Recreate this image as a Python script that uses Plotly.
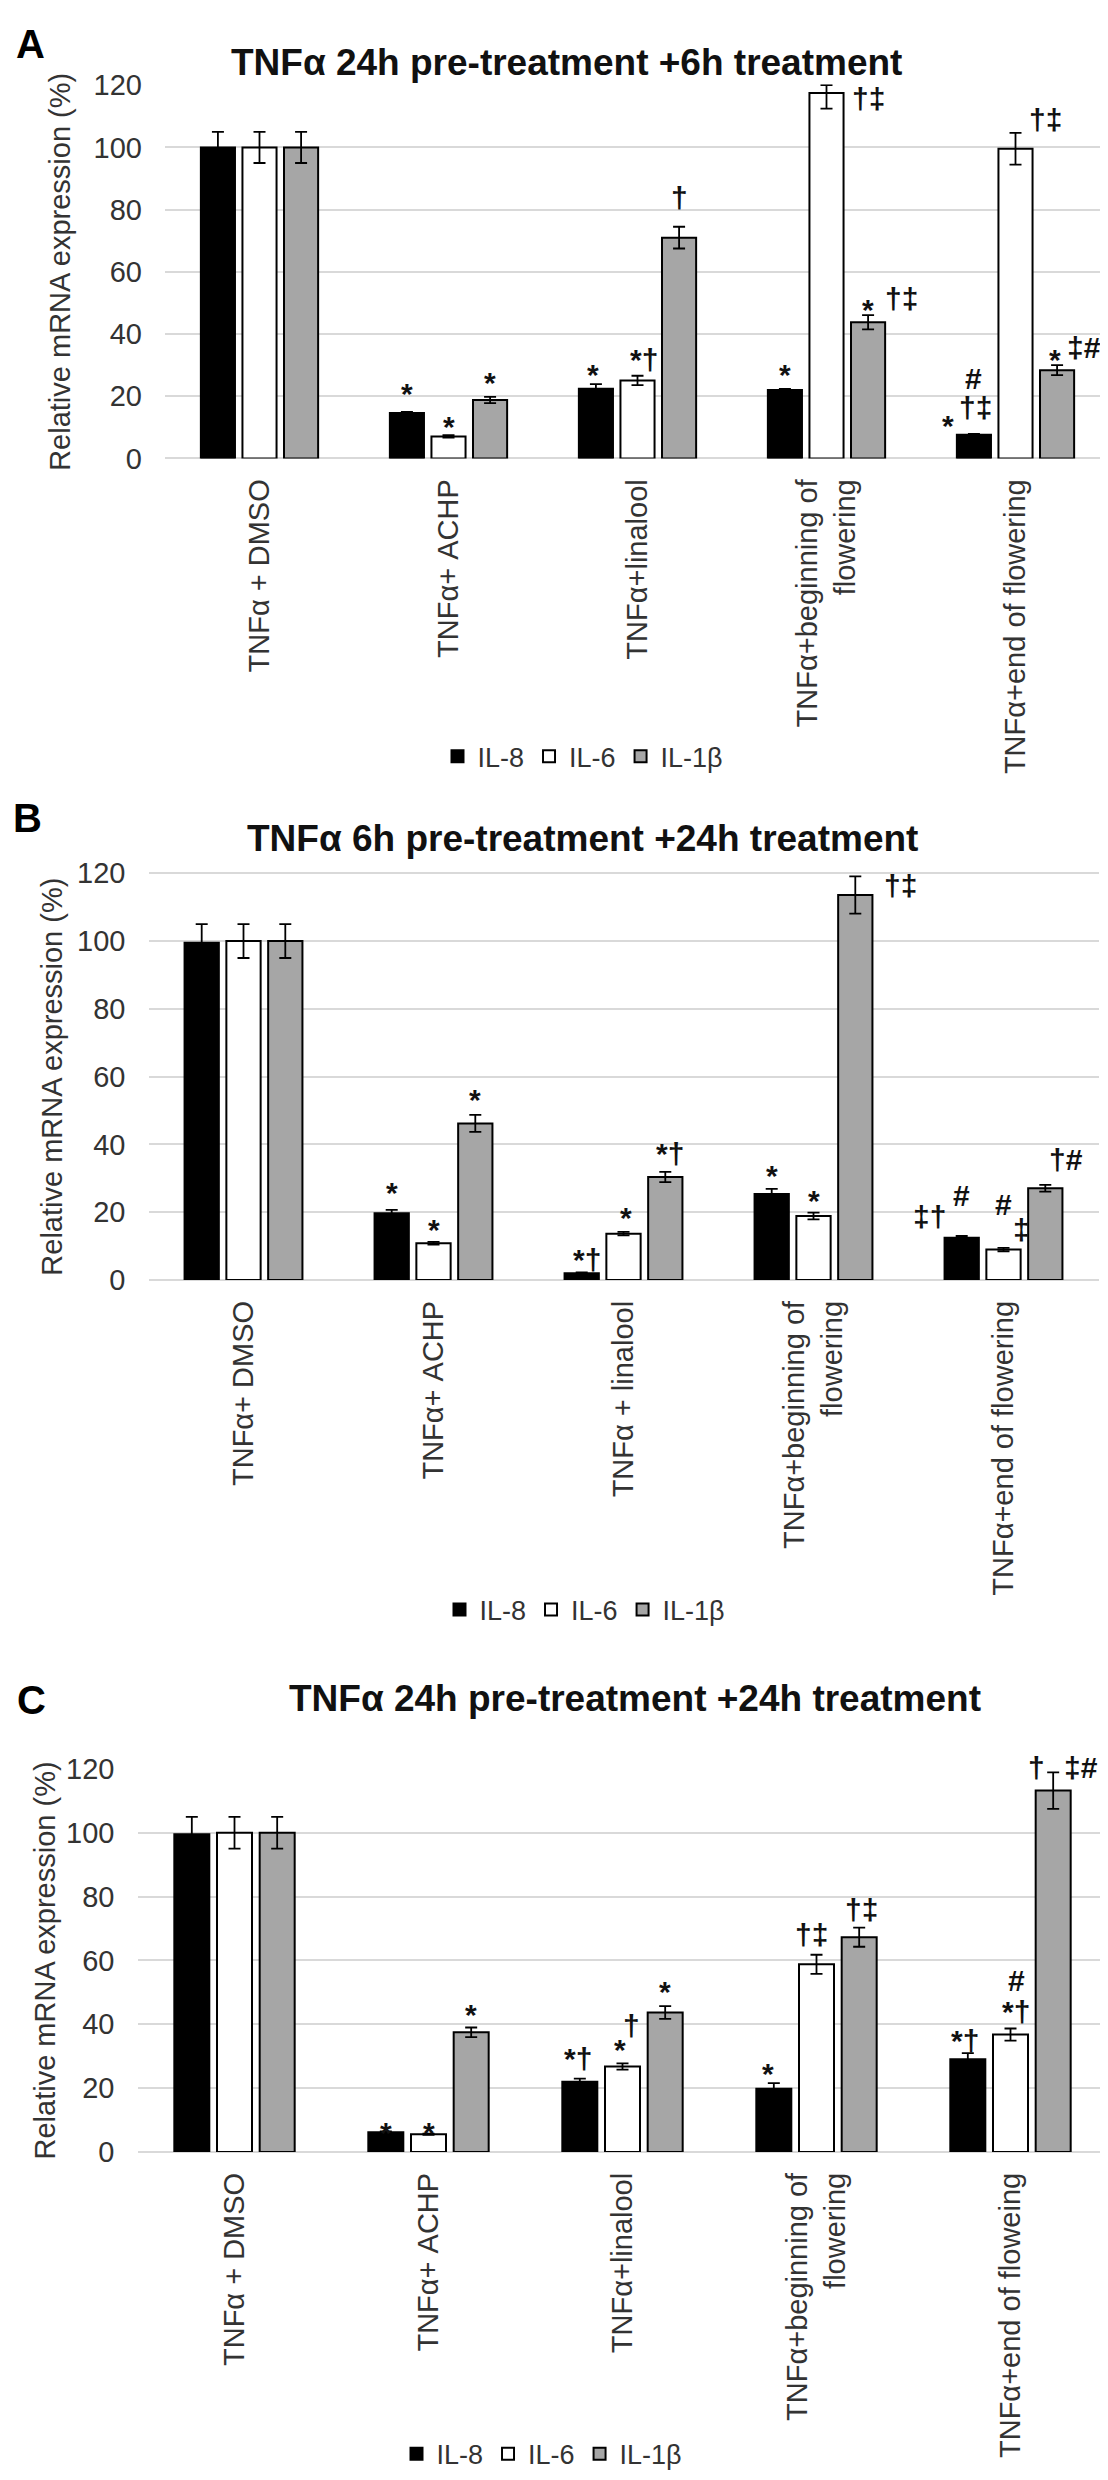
import plotly.graph_objects as go

W, H = 1108, 2480
FONT = "Liberation Sans, Arial, sans-serif"

SERIES = ["IL-8", "IL-6", "IL-1β"]
FILLS = ["#000000", "#ffffff", "#a6a6a6"]

# ---------------- Panel A data ----------------
A_title = "TNFα 24h pre-treatment +6h treatment"
A_labels = ["TNFα + DMSO", "TNFα+ ACHP", "TNFα+linalool",
            "TNFα+beginning of<br>flowering", "TNFα+end of flowering"]
A_IL8 = [100, 14.6, 22.4, 22.0, 7.6]
A_IL6 = [100, 7.1, 25.1, 117.5, 99.6]
A_IL1B = [100, 18.8, 71.0, 43.8, 28.4]
A_IL8_err = [5, 0.4, 1.5, 0.4, 0.3]
A_IL6_err = [5, 0.4, 1.5, 5.0, 5.1]
A_IL6_err_up = [5, 0.4, 1.5, 2.5, 5.1]
A_IL1B_err = [5, 1.0, 3.5, 2.3, 1.6]
A_marks = [  # (category, series, text)
    (1, 0, "*"), (1, 1, "*"), (1, 2, "*"),
    (2, 0, "*"), (2, 1, "*†"), (2, 2, "†"),
    (3, 0, "*"), (3, 1, "†‡"), (3, 2, "*"), (3, 2, "†‡"),
    (4, 0, "*"), (4, 0, "†‡"), (4, 0, "#"), (4, 1, "†‡"), (4, 2, "*"), (4, 2, "‡#"),
]

# ---------------- Panel B data ----------------
B_title = "TNFα 6h pre-treatment +24h treatment"
B_labels = ["TNFα+ DMSO", "TNFα+ ACHP", "TNFα + linalool",
            "TNFα+beginning of<br>flowering", "TNFα+end of flowering"]
B_IL8 = [99.5, 19.7, 2.0, 25.4, 12.5]
B_IL6 = [100, 10.9, 13.7, 18.9, 9.0]
B_IL1B = [100, 46.2, 30.4, 113.6, 27.1]
B_IL8_err = [5.5, 1.0, 0.3, 1.5, 0.5]
B_IL6_err = [5, 0.4, 0.5, 1.0, 0.5]
B_IL6_err_up = [5, 0.4, 0.5, 1.0, 0.5]
B_IL1B_err = [5, 2.5, 1.5, 5.5, 1.0]
B_marks = [
    (1, 0, "*"), (1, 1, "*"), (1, 2, "*"),
    (2, 0, "*†"), (2, 1, "*"), (2, 2, "*†"),
    (3, 0, "*"), (3, 1, "*"), (3, 2, "†‡"),
    (4, 0, "‡†"), (4, 0, "#"), (4, 1, "#"), (4, 1, "‡"), (4, 2, "†#"),
]

# ---------------- Panel C data ----------------
C_title = "TNFα 24h pre-treatment +24h treatment"
C_labels = ["TNFα + DMSO", "TNFα+ ACHP", "TNFα+linalool",
            "TNFα+beginning of<br>flowering", "TNFα+end of floweing"]
C_IL8 = [99.5, 6.2, 22.0, 19.8, 29.1]
C_IL6 = [100, 5.6, 26.8, 58.8, 36.8]
C_IL1B = [100, 37.5, 43.7, 67.3, 113.2]
C_IL8_err = [5.5, 0.3, 1.0, 1.8, 1.9]
C_IL6_err = [5, 0.2, 1.0, 3.0, 1.9]
C_IL6_err_up = [5, 0.2, 1.0, 3.0, 1.9]
C_IL1B_err = [5, 1.5, 2.0, 3.0, 5.7]
C_marks = [
    (1, 0, "*"), (1, 1, "*"), (1, 2, "*"),
    (2, 0, "*†"), (2, 1, "*"), (2, 1, "†"), (2, 2, "*"),
    (3, 0, "*"), (3, 1, "†‡"), (3, 2, "†‡"),
    (4, 0, "*†"), (4, 1, "*†"), (4, 1, "#"), (4, 2, "†"), (4, 2, "‡#"),
]

# ---------------- layout / style (pixels) ----------------
# mark placement styles, same order as marks: (anchor, dx, dy)
A_mark_style = [
    ("c", 0, 1), ("c", 0, -9), ("c", 0, -3),
    ("c", -3, -8), ("c", 6, -1), ("c", 0, 12),
    ("c", 0, -3), ("l", 24, -13), ("c", 0, -12), ("l", 16, 17),
    ("r", -19, 8), ("c", 2, 9), ("c", 0, 38), ("l", 12, 13), ("c", -2, -12), ("l", 9, 18),
]
B_mark_style = [
    ("c", 0, 0), ("c", 0, -5), ("c", 0, -2),
    ("c", 5, -5), ("c", 2, -3), ("c", 5, 1),
    ("c", 0, -4), ("c", 0, -5), ("l", 28, -9),
    ("r", -15, 20), ("c", 0, 23), ("c", 0, 26), ("l", 8, 18), ("l", 3, 25),
]
C_mark_style = [
    ("c", 0, -19), ("c", 0, -16), ("c", 0, -4),
    ("c", -2, 3), ("c", -3, -4), ("c", 9, 20), ("c", 0, -3),
    ("c", -6, -8), ("c", -5, 3), ("c", 2, 1),
    ("c", -3, -5), ("c", 5, -1), ("c", 6, 30), ("r", -7, 5), ("l", 10, 5),
]

BARGAP = 0.34
GROUPGAP = 0.18
SLOT = (1 - BARGAP) / 3


def px(x):
    return x / W


def py(y):
    return 1 - y / H


panels = [
    dict(key="", title=A_title, labels=A_labels, vals=[A_IL8, A_IL6, A_IL1B],
         errs=[A_IL8_err, A_IL6_err, A_IL1B_err], ups=[A_IL8_err, A_IL6_err_up, A_IL1B_err],
         marks=A_marks, mstyle=A_mark_style, letter="A",
         xdom=(157, 1102), ybot=441, ytop=63,
         title_xy=(558, 40), letter_xy=(22, 21), ytitle_xy=(52, 252), legend_xy=(575, 743)),
    dict(key="2", title=B_title, labels=B_labels, vals=[B_IL8, B_IL6, B_IL1B],
         errs=[B_IL8_err, B_IL6_err, B_IL1B_err], ups=[B_IL8_err, B_IL6_err_up, B_IL1B_err],
         marks=B_marks, mstyle=B_mark_style, letter="B",
         xdom=(140.5, 1090.5), ybot=1273, ytop=861,
         title_xy=(574, 826), letter_xy=(19, 805), ytitle_xy=(44, 1067), legend_xy=(577, 1607)),
    dict(key="3", title=C_title, labels=C_labels, vals=[C_IL8, C_IL6, C_IL1B],
         errs=[C_IL8_err, C_IL6_err, C_IL1B_err], ups=[C_IL8_err, C_IL6_err_up, C_IL1B_err],
         marks=C_marks, mstyle=C_mark_style, letter="C",
         xdom=(129.5, 1099.5), ybot=2156, ytop=1768,
         title_xy=(627, 1697), letter_xy=(23, 1698), ytitle_xy=(37, 1962), legend_xy=(534, 2462)),
]

fig = go.Figure()
annotations = []
layout = {}
YMAX = 120.3

for p in panels:
    k = p["key"]
    xa, ya = "x" + k, "y" + k
    leg = "legend" + k
    cats = list(range(len(p["labels"])))
    for s in range(3):
        fig.add_trace(go.Bar(
            x=cats, y=p["vals"][s], name=SERIES[s],
            xaxis=xa, yaxis=ya, legend=leg,
            marker=dict(color=FILLS[s], line=dict(color="#000000", width=2)),
            error_y=dict(type="data", array=p["ups"][s], arrayminus=p["errs"][s],
                         symmetric=False, color="#000000", thickness=1.8, width=6),
        ))
    per_unit = (p["ybot"] - p["ytop"]) / 120.0
    top_px = p["ybot"] - YMAX * per_unit
    layout["xaxis" + k] = dict(
        domain=[px(p["xdom"][0]), px(p["xdom"][1])], anchor=ya,
        range=[-0.5, len(cats) - 0.5], tickmode="array", tickvals=cats, ticktext=p["labels"],
        tickangle=-90, tickfont=dict(family=FONT, size=29, color="#333333"),
        showgrid=False, showline=False, zeroline=False, ticks="", ticklabelstandoff=14,
        fixedrange=True,
    )
    layout["yaxis" + k] = dict(
        domain=[py(p["ybot"]), py(top_px)], anchor=xa, range=[0, YMAX],
        tickmode="array", tickvals=[0, 20, 40, 60, 80, 100, 120],
        tickfont=dict(family=FONT, size=29, color="#333333"),
        showgrid=True, gridcolor="#d9d9d9", gridwidth=2,
        zeroline=True, zerolinecolor="#d9d9d9", zerolinewidth=2,
        showline=False, ticks="", ticklabelstandoff=22, fixedrange=True,
    )
    layout[leg] = dict(
        orientation="h", x=px(p["legend_xy"][0]), y=py(p["legend_xy"][1]),
        xanchor="center", yanchor="middle", xref="paper", yref="paper",
        font=dict(family=FONT, size=27, color="#333333"), itemwidth=30,
        bgcolor="rgba(0,0,0,0)", traceorder="normal",
    )
    annotations.append(dict(
        text="<b>" + p["title"] + "</b>", xref="paper", yref="paper",
        x=px(p["title_xy"][0]), y=py(p["title_xy"][1]), xanchor="center", yanchor="middle",
        showarrow=False, font=dict(family=FONT, size=37, color="#111111")))
    annotations.append(dict(
        text="<b>" + p["letter"] + "</b>", xref="paper", yref="paper",
        x=px(p["letter_xy"][0]), y=py(p["letter_xy"][1]), xanchor="center", yanchor="middle",
        showarrow=False, font=dict(family=FONT, size=40, color="#000000")))
    annotations.append(dict(
        text="Relative mRNA expression (%)", xref="paper", yref="paper",
        x=px(p["ytitle_xy"][0]), y=py(p["ytitle_xy"][1]), xanchor="center", yanchor="middle",
        textangle=-90, showarrow=False, font=dict(family=FONT, size=29, color="#333333")))
    for (c, s, txt), (anc, dx, dy) in zip(p["marks"], p["mstyle"]):
        xv = c + (s - 1) * SLOT
        yv = p["vals"][s][c] + p["ups"][s][c]
        if anc == "c":
            xanchor, yanchor = "center", "bottom"
        elif anc == "l":
            xanchor, yanchor = "left", "middle"
        else:
            xanchor, yanchor = "right", "middle"
        annotations.append(dict(
            text="<b>" + txt + "</b>", xref=xa, yref=ya, x=xv, y=yv,
            xanchor=xanchor, yanchor=yanchor, xshift=dx, yshift=dy, borderpad=0,
            showarrow=False, font=dict(family=FONT, size=30, color="#111111")))

fig.update_layout(
    width=W, height=H, margin=dict(l=0, r=0, t=0, b=0),
    paper_bgcolor="#ffffff", plot_bgcolor="#ffffff",
    barmode="group", bargap=BARGAP, bargroupgap=GROUPGAP,
    annotations=annotations, showlegend=True,
    **layout,
)

fig.write_html("out.html")
